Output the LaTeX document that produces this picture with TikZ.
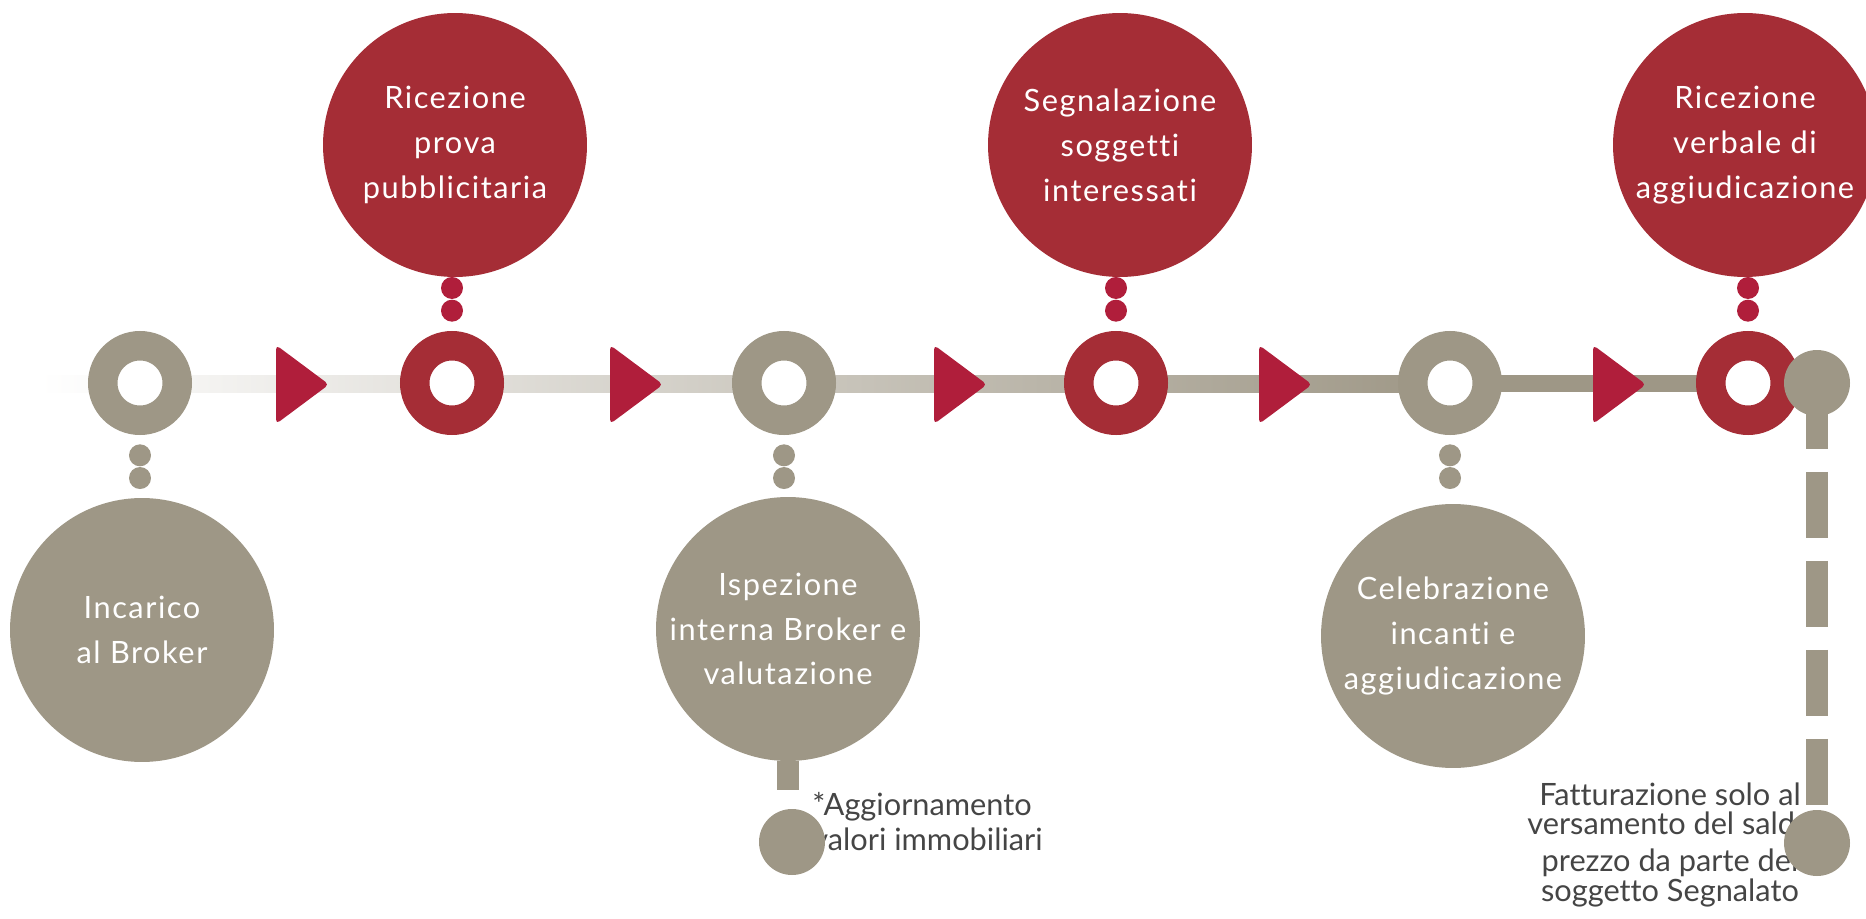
\documentclass[tikz,border=0pt]{standalone}
\usepackage{fontspec}
\setmainfont[Ligatures=CommonOff]{Lato}
\newfontfamily\bubblefamily[LetterSpace=5, Ligatures=CommonOff]{Lato}
\newcommand\bubblefont{\bubblefamily\fontsize{17.5}{25.5}\selectfont}
\newcommand\notefont{\fontsize{17.5}{17}\selectfont\lineskiplimit=-20pt\relax}
\newcommand\updatefont{\fontsize{17.5}{20}\selectfont}
\usetikzlibrary{positioning}
\definecolor{tlgray}{HTML}{9E9786}
\definecolor{tlred}{HTML}{A52D36}
\definecolor{tlcrimson}{HTML}{B01E3B}
\definecolor{tltext}{HTML}{454545}

\begin{document}
\begin{tikzpicture}[x=0.02cm, y=-0.02cm,
        ring/.style={circle, draw=#1, fill=white, line width=0.59cm, minimum size=1.49cm, inner sep=0pt},
        bubble/.style={circle, fill=#1, minimum size=5.28cm, inner sep=0pt, align=center, text=white, font=\bubblefont},
        bead/.style={circle, fill=#1, minimum size=0.44cm, inner sep=0pt},
        knob/.style={circle, fill=tlgray, minimum size=1.32cm, inner sep=0pt},
        note/.style={inner sep=0pt, text=tltext, font=\notefont}]
    \useasboundingbox (0,0) rectangle (1866,919);

    % timeline bar
    \shade[left color=white, right color=tlgray] (40,375) rectangle (1450,392);
    \fill[tlgray] (1450,375) rectangle (1817,392);

    % stations on the line
    \node[ring=tlgray] (r1) at (140,383) {};
    \node[ring=tlred] (r2) at (452,383) {};
    \node[ring=tlgray] (r3) at (784,383) {};
    \node[ring=tlred] (r4) at (1116,383) {};
    \node[ring=tlgray] (r5) at (1450,383) {};
    \node[ring=tlred] (r6) at (1748,383) {};

    \foreach \x in {276,610,934,1259,1593}
        \fill[tlcrimson, rounded corners=2.5pt] (\x,345) -- (\x+53,384.5) -- (\x,424) -- cycle;

    % steps
    \node[bubble=tlgray] (c1) at (142,630) {Incarico\\al Broker};
    \node[bubble=tlred] (c2) at (455,145) {Ricezione\\prova\\pubblicitaria};
    \node[bubble=tlgray] (c3) at (788,629) {Ispezione\\interna Broker e\\valutazione};
    \node[bubble=tlred] (c4) at (1120,145) {Segnalazione\\soggetti\\interessati};
    \node[bubble=tlgray] (c5) at (1453,636) {Celebrazione\\incanti e\\aggiudicazione};
    \node[bubble=tlred] (c6) at (1745,145) {Ricezione\\verbale di\\aggiudicazione};

    \foreach \r in {r1,r3,r5}{
        \node[bead=tlgray, below=0.18cm of \r] (\r a) {};
        \node[bead=tlgray, below=0pt of \r a] (\r b) {};
    }
    \foreach \r in {r2,r4,r6}{
        \node[bead=tlcrimson, above=0.18cm of \r] (\r a) {};
        \node[bead=tlcrimson, above=0pt of \r a] (\r b) {};
    }

    % side notes
    \draw[tlgray, line width=0.44cm] (c3.south) -- ++(0,29);
    \node[note, anchor=north west, align=left, font=\updatefont] (update) at (812,792)
        {*Aggiornamento\\valori immobiliari};
    \node[knob] (k3) at (792,842) {};

    \node[note, anchor=north, align=center] (billing) at (1670,782)
        {Fatturazione solo al\\versamento del saldo\\[4pt]prezzo da parte del\\soggetto Segnalato};
    \node[knob] (k1) at (1817,383) {};
    \node[knob] (k2) at (1817,843) {};
    \draw[tlgray, line width=0.44cm, dash pattern=on 1.32cm off 0.46cm] (k1.center) -- (k2.center);
\end{tikzpicture}
\end{document}
